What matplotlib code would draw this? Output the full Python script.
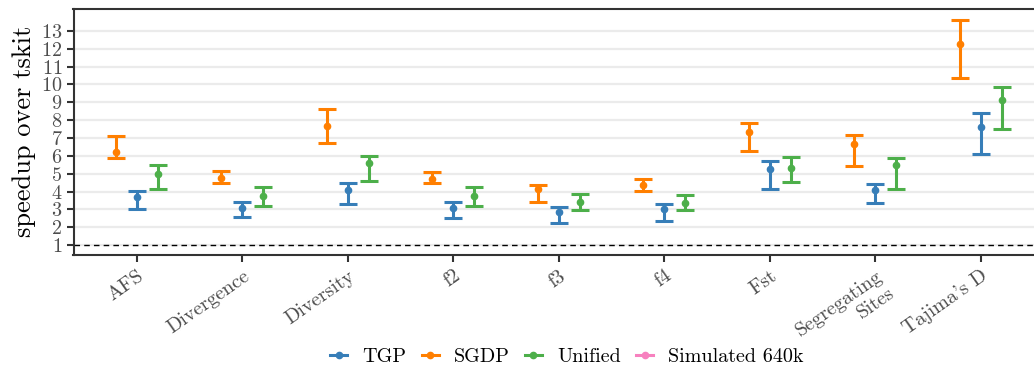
import numpy as np
import matplotlib
matplotlib.use("Agg")
import matplotlib.pyplot as plt
from matplotlib.lines import Line2D

plt.rcParams['font.family'] = ['cmr10', 'DejaVu Serif']
plt.rcParams['mathtext.fontset'] = 'cm'
plt.rcParams['axes.unicode_minus'] = False
plt.rcParams['axes.formatter.use_mathtext'] = True

stats = ['AFS', 'Divergence', 'Diversity', 'f2', 'f3', 'f4', 'Fst',
         'Segregating\nSites', "Tajima's D"]
series = ['TGP', 'SGDP', 'Unified', 'Simulated 640k']
colors = ['#377eb8', '#ff7f00', '#4daf4a', '#f781bf']

# centre, low, high per statistic
tgp_mid = [3.67, 3.09, 4.07, 3.09, 2.83, 3.00, 5.28, 4.07, 7.64]
tgp_lo = [3.02, 2.55, 3.30, 2.50, 2.22, 2.36, 4.12, 3.34, 6.12]
tgp_hi = [4.01, 3.41, 4.46, 3.41, 3.11, 3.28, 5.71, 4.44, 8.39]

sgdp_mid = [6.22, 4.74, 7.66, 4.70, 4.12, 4.35, 7.35, 6.66, 12.27]
sgdp_lo = [5.86, 4.49, 6.74, 4.46, 3.43, 4.05, 6.29, 5.43, 10.37]
sgdp_hi = [7.11, 5.17, 8.64, 5.11, 4.37, 4.70, 7.86, 7.19, 13.62]

uni_mid = [4.98, 3.75, 5.58, 3.73, 3.41, 3.37, 5.34, 5.49, 9.15]
uni_lo = [4.12, 3.19, 4.61, 3.19, 2.96, 2.95, 4.53, 4.16, 7.51]
uni_hi = [5.49, 4.25, 5.99, 4.25, 3.88, 3.79, 5.95, 5.90, 9.84]

offsets = [0.0, -0.2, 0.2]
data = [(tgp_mid, tgp_lo, tgp_hi), (sgdp_mid, sgdp_lo, sgdp_hi), (uni_mid, uni_lo, uni_hi)]

fig = plt.figure(figsize=(10.34, 3.72), dpi=100)
ax = fig.add_axes([73.5 / 1034, 117 / 372, 970.6 / 1034, 246.5 / 372])

x = np.arange(len(stats))
for i, (mid, lo, hi) in enumerate(data):
    mid = np.array(mid); lo = np.array(lo); hi = np.array(hi)
    ax.errorbar(x + offsets[i], mid, yerr=[mid - lo, hi - mid], fmt='o',
                color=colors[i], ms=4.5, elinewidth=2.2, capsize=6.5, capthick=2.2,
                zorder=3)

ax.axhline(1, color='black', ls='--', lw=1, dashes=(4, 3), zorder=2)
ax.set_xlim(-0.6, 8.6)
ax.set_ylim(0.44, 14.26)
ax.set_yticks(range(1, 14))
ax.yaxis.grid(True, color='#ebebeb', lw=1.6)
ax.set_axisbelow(True)
ax.set_xticks(x)
ax.set_xticklabels(stats, rotation=35, ha='right', rotation_mode='anchor')
ax.tick_params(axis='both', colors='#333333', labelcolor='#4d4d4d',
               labelsize=14.5, width=1.5, length=5)
ax.tick_params(axis='y', pad=3)
for s in ax.spines.values():
    s.set_color('#333333')
    s.set_linewidth(1.5)
ax.set_ylabel('speedup over tskit', fontsize=19, color='black', labelpad=4)

handles = [Line2D([0], [0], color=c, lw=2.2, marker='o', ms=4.5) for c in colors]
fig.legend(handles, series, loc='center', bbox_to_anchor=(567 / 1034, 1 - 357 / 372),
           ncol=4, frameon=False, fontsize=14.5, handlelength=0.85, columnspacing=0.75,
           handletextpad=0.75)

fig.savefig('out.png', dpi=100)
